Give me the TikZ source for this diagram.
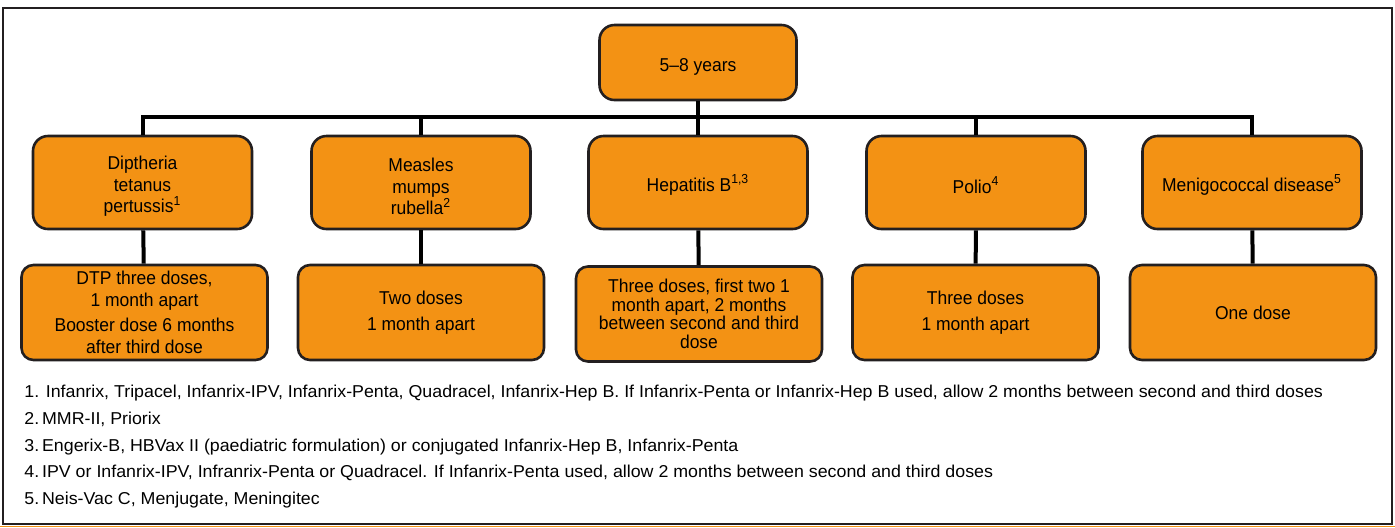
\documentclass[tikz,border=0pt]{standalone}
\usepackage{fontspec}
\setmainfont{Liberation Sans}[FakeStretch=0.94]
\newfontfamily\notefont{Liberation Sans}[FakeStretch=1.035]
\usepackage{tikz}
\usetikzlibrary{positioning,calc}
\definecolor{vaxorange}{RGB}{243,146,20}
\definecolor{edgegray}{RGB}{35,31,32}
\newcommand{\lift}{\rule{0pt}{10.9pt}}
\tikzset{
  vaxbox/.style={draw=edgegray, line width=1.3pt, fill=vaxorange, inner sep=0pt,
                 font=\fontsize{9.3}{10.75}\selectfont, align=center},
  agebox/.style={vaxbox, rounded corners=7.5pt, minimum width=98.5pt, minimum height=37.5pt,
                 execute at begin node={\rule{0pt}{10.5pt}}},
  disbox/.style={vaxbox, rounded corners=7.5pt, minimum width=109.5pt, minimum height=46.5pt,
                 execute at begin node={\lift}},
  dosebox/.style={vaxbox, rounded corners=6pt, minimum width=123pt, minimum height=47.5pt},
  link/.style={draw=black, line width=2pt},
  note/.style={anchor=base west, inner sep=0pt, font=\notefont\fontsize{8.6}{9}\selectfont},
}

\begin{document}
\begin{tikzpicture}[x=0.5pt, y=-0.5pt]
  \useasboundingbox (0,0) rectangle (1395,527);
  % outer frame
  \draw[edgegray, line width=0.8pt] (3,8) rectangle (1392,524);
  \draw[vaxorange, line width=0.8pt] (0,526.5) -- (1395,526.5);
  % age group
  \node[agebox] (root) at (698,62.5) {5--8 years};
  \coordinate (bus) at (698,117);
  % diseases
  \node[disbox] (d1) at (142.5,182.5) {\lift Diptheria\\tetanus\\pertussis\textsuperscript{1}};
  \node[disbox] (d2) at (421,182.5) {\lift Measles\\mumps\\rubella\textsuperscript{2}};
  \node[disbox] (d3) at (698,182.5) {Hepatitis B\textsuperscript{1,3}};
  \node[disbox] (d4) at (976,182.5) {Polio\textsuperscript{4}};
  \node[disbox] (d5) at (1252,182.5) {Menigococcal disease\textsuperscript{5}};
  % schedules
  \node[dosebox] (s1) at (144.5,312.5) {DTP three doses,\\1 month apart\\[2pt]Booster dose 6 months\\after third dose};
  \node[dosebox] (s2) at (421,312.5) {Two doses\\[2pt]1 month apart};
  \node[dosebox, font=\fontsize{9.3}{9.3}\selectfont] (s3) at (699,314)
       {Three doses, first two 1\\month apart, 2 months\\between second and third\\dose};
  \node[dosebox] (s4) at (975.5,312.5) {Three doses\\[2pt]1 month apart};
  \node[dosebox] (s5) at (1253,312.5) {One dose};
  % tree lines
  \draw[link] (root) -- (bus);
  \draw[link] (d1.north) |- (bus);
  \draw[link] (d2.north) |- (bus);
  \draw[link] (d3) -- (bus);
  \draw[link] (d4.north) |- (bus);
  \draw[link] (d5.north) |- (bus);
  \draw[link] (d1) -- (s1);
  \draw[link] (d2) -- (s2);
  \draw[link] (d3) -- (s3);
  \draw[link] (d4) -- (s4);
  \draw[link] (d5) -- (s5);
  % footnotes
  \node[note] (n1) at (24,397.5) {1. Infanrix, Tripacel, Infanrix-IPV, Infanrix-Penta, Quadracel, Infanrix-Hep B. If Infanrix-Penta or Infanrix-Hep B used, allow 2 months between second and third doses};
  \node[note] (n2) at (24,424.5) {2.\,MMR-II, Priorix};
  \node[note] (n3) at (24,451) {3.\,Engerix-B, HBVax II (paediatric formulation) or conjugated Infanrix-Hep B, Infanrix-Penta};
  \node[note] (n4) at (24,477.5) {4.\,IPV or Infanrix-IPV, Infranrix-Penta or Quadracel. If Infanrix-Penta used, allow 2 months between second and third doses};
  \node[note] (n5) at (24,504.5) {5.\,Neis-Vac C, Menjugate, Meningitec};
\end{tikzpicture}
\end{document}
